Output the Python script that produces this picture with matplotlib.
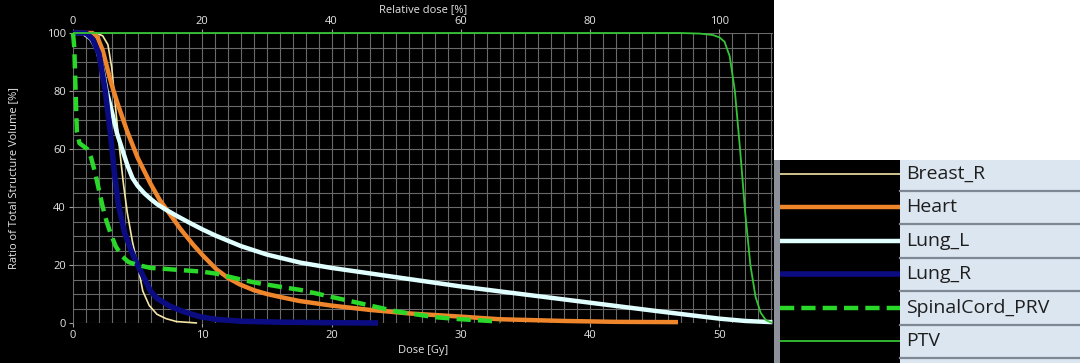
import matplotlib.pyplot as plt
from matplotlib.ticker import MultipleLocator
from matplotlib.patches import Rectangle

plt.rcParams['font.family'] = ['Open Sans', 'DejaVu Sans']

# DVH curves, dose in Gy, volume in %
breast_dose = [0, 1.8, 2.3, 2.7, 3.0, 3.3, 3.6, 3.9, 4.2, 4.6, 5.0, 5.4, 5.9, 6.5, 7.2, 8.0, 9.6]
breast_vol = [100, 100, 99, 96, 88, 74, 60, 48, 38, 28, 20, 11, 6, 3, 1.5, 0.5, 0]

heart_dose = [0, 1.5, 1.9, 2.3, 2.7, 3.0, 3.5, 4.2, 5.0, 6.0, 6.7, 7.5, 8.3, 9.3, 10.0,
              11.1, 12.0, 12.9, 14.0, 15.0, 16.0, 17.5, 20.0, 23.0, 26.0, 30.0, 33.0,
              38.0, 42.0, 46.8]
heart_vol = [100, 100, 98.5, 94, 87, 82, 75, 66, 57, 48, 42.5, 37.5, 32.5, 27, 23.5,
             18.5, 15.5, 13.3, 11.3, 10, 9, 7.6, 6, 4.5, 3.3, 2.2, 1.3,
             0.7, 0.4, 0.3]

lungl_dose = [0, 0.8, 1.4, 1.9, 2.3, 2.6, 3.0, 3.4, 3.8, 4.2, 4.6, 5.0, 5.5, 6.0, 6.5,
              7.1, 8.0, 9.0, 10, 11, 13, 15, 17.6, 20, 25, 30, 35, 40, 45, 50, 52, 54.1]
lungl_vol = [100, 100, 98, 94, 87, 80, 73, 65.5, 60, 54.5, 50, 47.3, 44.8, 42.8, 41,
             39.3, 37, 34.6, 32.3, 30.2, 26.5, 23.6, 20.8, 19, 15.8, 12.6, 9.8, 7, 4.2,
             1.5, 0.7, 0.3]

lungr_dose = [0, 1.0, 1.5, 2.0, 2.5, 2.9, 3.2, 3.5, 4.0, 4.5, 5.0, 5.5, 6.0, 6.5, 7.5,
              8.5, 9.8, 11, 13, 16, 20, 23.6]
lungr_vol = [100, 100, 98, 93, 80, 65, 52, 41, 31, 25, 20, 15.5, 11, 8.5, 5.8,
             4, 2.2, 1.3, 0.6, 0.3, 0.1, 0]

cord_dose = [0, 0.1, 0.2, 0.3, 0.5, 0.8, 1.1, 1.4, 1.7, 2.0, 2.3, 2.6, 2.9, 3.3, 3.8, 4.3,
             5.0, 6.0, 7.0, 8.5, 10, 11.1, 12.5, 14, 16, 17.6, 20, 22, 25, 28, 30, 33]
cord_vol = [100, 95, 80, 66, 62, 61, 60, 57, 52, 46, 40, 35, 31, 26.5, 23, 21,
            20, 19, 18.7, 18.2, 17.7, 17, 15.5, 14, 12.5, 11.4, 9, 7, 4, 2, 1.3, 0.5]

ptv_dose = [0, 47, 48.5, 49.5, 50.0, 50.4, 50.8, 51.2, 51.6, 52.0, 52.4, 52.8, 53.2, 53.6, 54.1]
ptv_vol = [100, 100, 99.8, 99.3, 98.5, 97, 92, 80, 60, 38, 20, 9, 3.5, 1, 0]

names = ['Breast_R', 'Heart', 'Lung_L', 'Lung_R', 'SpinalCord_PRV', 'PTV']
colors = ['#f3e6a6', '#f0862c', '#e0ffff', '#0c0c82', '#2ad82a', '#35c435']
widths = [1.2, 3.2, 3.2, 4.0, 3.2, 1.3]
styles = ['-', '-', '-', '-', (0, (3.2, 1.6)), '-']
curves = [(breast_dose, breast_vol), (heart_dose, heart_vol), (lungl_dose, lungl_vol),
          (lungr_dose, lungr_vol), (cord_dose, cord_vol), (ptv_dose, ptv_vol)]

prescription = 50.0
W, H = 1080, 363

fig = plt.figure(figsize=(W / 100, H / 100), dpi=100, facecolor='black')

# white block above the legend panel
fig.patches.append(Rectangle((774 / W, 1 - 160 / H), 1, 1, transform=fig.transFigure,
                             facecolor='white', edgecolor='none', zorder=0))

ax = fig.add_axes([73 / W, 1 - 323 / H, 700 / W, 290 / H], facecolor='black')
ax.set_xlim(0, 54.15)
ax.set_ylim(0, 100)

ax.xaxis.set_major_locator(MultipleLocator(10))
ax.xaxis.set_minor_locator(MultipleLocator(1))
ax.yaxis.set_major_locator(MultipleLocator(20))
ax.yaxis.set_minor_locator(MultipleLocator(5))
ax.grid(which='both', color='#6a6a6a', lw=0.8, zorder=0)
ax.set_axisbelow(True)
for s in ax.spines.values():
    s.set_visible(False)

txt = '#e6e6e6'
ax.tick_params(which='major', colors='#a0a0a0', labelcolor=txt, labelsize=8, length=3, pad=2)
ax.tick_params(which='minor', length=0)
ax.set_xlabel('Dose [Gy]', color=txt, fontsize=8, labelpad=3)
ax.set_ylabel('Ratio of Total Structure Volume [%]', color=txt, fontsize=8, labelpad=20)

top = ax.secondary_xaxis('top', functions=(lambda d: d / prescription * 100,
                                           lambda r: r * prescription / 100))
top.xaxis.set_major_locator(MultipleLocator(20))
top.tick_params(colors='#a0a0a0', labelcolor=txt, labelsize=8, length=3, pad=1)
top.set_xlabel('Relative dose [%]', color=txt, fontsize=8, labelpad=3)
top.spines['top'].set_visible(False)

for (d, v), c, lw, ls in zip(curves, colors, widths, styles):
    ax.plot(d, v, color=c, lw=lw, ls=ls, clip_on=False, solid_capstyle='butt',
            solid_joinstyle='round')

# legend panel
lg = fig.add_axes([774 / W, 0, 306 / W, 203 / H])
lg.set_xlim(774, 1080)
lg.set_ylim(363, 160)
lg.axis('off')
lg.add_patch(Rectangle((774, 160), 6, 203, facecolor='#8c9098', edgecolor='none'))
lg.add_patch(Rectangle((780, 160), 120, 203, facecolor='black', edgecolor='none'))
lg.add_patch(Rectangle((900, 160), 180, 203, facecolor='#dce6f0', edgecolor='none'))
row_h = 33.4
for k in range(6):
    yb = 191 + k * row_h
    lg.plot([900, 1080], [yb, yb], color='#7d8894', lw=1.6)
for k, (n, c, lw, ls) in enumerate(zip(names, colors, widths, styles)):
    yc = 174 + k * row_h
    lg.plot([780, 900], [yc, yc], color=c, lw=lw, ls=ls, solid_capstyle='butt')
    lg.text(906, yc, n, color='#1e1e1e', fontsize=14, va='center', ha='left')

fig.savefig('out.png', dpi=100, facecolor=fig.get_facecolor())
